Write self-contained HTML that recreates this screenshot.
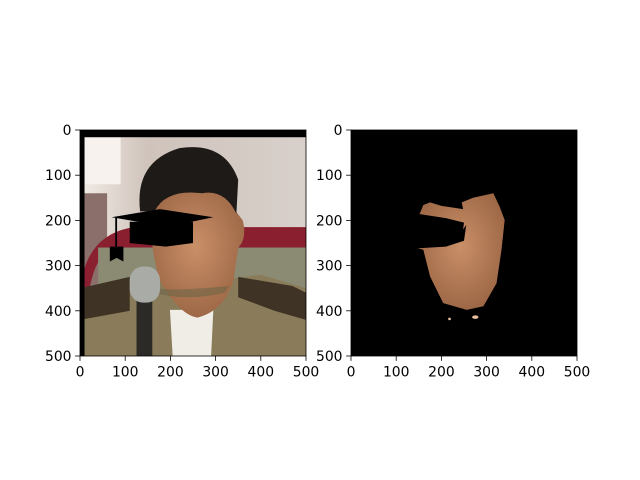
<!DOCTYPE html>
<html><head><meta charset="utf-8"><style>
html,body{margin:0;padding:0;background:#fff;}
svg{display:block;font-family:"DejaVu Sans","Liberation Sans",sans-serif;}
</style></head><body>
<svg id="fig" width="640" height="480" viewBox="0 0 640 480" xmlns="http://www.w3.org/2000/svg">
<defs>
<clipPath id="clipL"><rect x="0" y="0" width="500" height="500"/></clipPath>
<radialGradient id="skin" cx="0.5" cy="0.45" r="0.6"><stop offset="0" stop-color="#c98f68"/><stop offset="1" stop-color="#9a6443"/></radialGradient>
<linearGradient id="bg" x1="0" y1="0" x2="1" y2="0"><stop offset="0" stop-color="#f2ece6"/><stop offset="0.3" stop-color="#cfc3bb"/><stop offset="1" stop-color="#d8d0cb"/></linearGradient>
</defs>
<g id="axL" transform="translate(80,130) scale(0.452)">
 <g clip-path="url(#clipL)">
  <rect width="500" height="500" fill="url(#bg)"/>
  <rect x="0" y="0" width="90" height="120" fill="#f7f2ee"/>
  <rect x="0" y="140" width="60" height="220" fill="#8a6f6a"/>
  <path d="M0 360 Q10 230 120 215 L500 215 L500 265 L60 270 Q30 290 20 360 Z" fill="#8a1f30"/>
  <rect x="40" y="260" width="460" height="100" fill="#8b8a72"/>
  <path d="M0 350 L150 320 L200 330 L330 330 L400 320 L500 350 L500 500 L0 500 Z" fill="#8a7c5a"/>
  <path d="M0 350 L110 325 L110 400 L0 420 Z" fill="#3e3324"/>
  <path d="M350 325 L470 345 L500 360 L500 420 L430 400 L350 370 Z" fill="#3e3324"/>
  <path d="M199 398 L295 398 L290 500 L205 500 Z" fill="#f0ede6"/>
  <path d="M150 140 Q150 230 175 330 Q220 410 260 415 Q320 400 340 330 L350 260 Q370 240 360 200 L345 180 Q345 120 300 130 Z" fill="url(#skin)"/>
  <path d="M133 180 Q120 70 220 40 Q320 25 350 110 L346 185 Q320 130 270 140 Q190 130 165 180 Z" fill="#1e1a17"/>
  <path d="M150 345 Q180 360 330 345 L320 360 Q240 380 160 360 Z" fill="#6e6548" opacity="0.6"/>
  <rect x="125" y="360" width="35" height="140" fill="#2b2a27"/>
  <rect x="110" y="302" width="67" height="80" rx="30" fill="#a9aba6"/>
  <polygon points="70,193 177,175 295,193 192,214" fill="#000"/>
  <polygon points="110,203 250,203 250,250 190,258 110,250" fill="#000"/>
  <rect x="78" y="193" width="4" height="67" fill="#000"/>
  <polygon points="66,258 96,258 96,291 81,283 66,291" fill="#000"/>
  <rect x="0" y="0" width="500" height="16" fill="#000"/>
  <rect x="0" y="0" width="10" height="500" fill="#000"/>
 </g>
</g>
<g id="axR" transform="translate(351,130) scale(0.452)">
 <g>
  <rect width="500" height="500" fill="#000"/>
  <polygon points="160,166 175,160 200,168 248,175 245,160 270,150 315,140 329,170 340,199 333,265 322,339 293,390 256,398 204,383 175,324 160,265 145,261 160,225 150,190" fill="url(#skin)"/>
  <polygon points="145,185 210,195 250,205 248,220 255,210 250,245 210,258 145,262" fill="#000"/>
  <circle cx="218" cy="418" r="3" fill="#e8c0a0"/>
  <ellipse cx="275" cy="414" rx="7" ry="4" fill="#e8c0a0"/>
 </g>
</g>
<g id="frames" fill="none" stroke="#000" stroke-width="0.8">
 <rect x="80" y="130" width="226" height="226"/>
 <rect x="351" y="130" width="226" height="226"/>
</g>
<g id="ticks" font-size="13.9" fill="#000"></g>
<script>
const tickValues = [0, 100, 200, 300, 400, 500];
const tickLabels = ["0", "100", "200", "300", "400", "500"];
const axesOrigins = [[80,130,"left"],[351,130,"right"]];
const NS = "http://www.w3.org/2000/svg";
const g = document.getElementById('ticks');
function sx(ox, v){ return ox + v/500*226; }
function sy(oy, v){ return oy + v/500*226; }
axesOrigins.forEach(function(a){
  const ox=a[0], oy=a[1];
  tickValues.forEach(function(v,i){
    const x = sx(ox,v);
    let l = document.createElementNS(NS,'line');
    l.setAttribute('x1',x); l.setAttribute('x2',x);
    l.setAttribute('y1',oy+226); l.setAttribute('y2',oy+226+4.9);
    l.setAttribute('stroke','#000'); l.setAttribute('stroke-width','0.8');
    
    
    g.appendChild(l);
    let t = document.createElementNS(NS,'text');
    t.setAttribute('x',x); t.setAttribute('y',oy+226+20.5);
    t.setAttribute('text-anchor','middle');
    t.textContent = tickLabels[i];
    
    
    g.appendChild(t);
    const y = sy(oy,v);
    let l2 = document.createElementNS(NS,'line');
    l2.setAttribute('x1',ox-4.9); l2.setAttribute('x2',ox);
    l2.setAttribute('y1',y); l2.setAttribute('y2',y);
    l2.setAttribute('stroke','#000'); l2.setAttribute('stroke-width','0.8');
    
    
    g.appendChild(l2);
    let t2 = document.createElementNS(NS,'text');
    t2.setAttribute('x',ox-8.5); t2.setAttribute('y',y+5);
    t2.setAttribute('text-anchor','end');
    t2.textContent = tickLabels[i];
    
    
    g.appendChild(t2);
  });
});
</script>
</svg>
</body></html>
